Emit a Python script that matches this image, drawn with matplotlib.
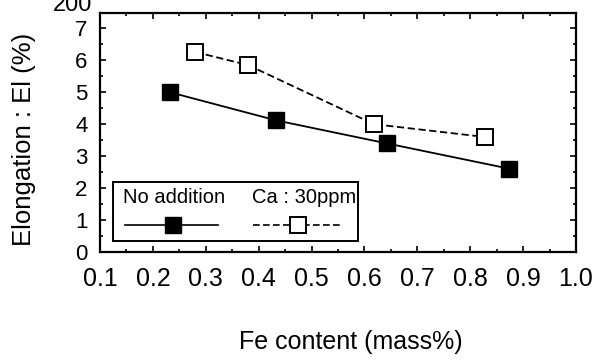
import matplotlib.pyplot as plt
from matplotlib.lines import Line2D
from matplotlib.patches import Rectangle
from matplotlib.ticker import MultipleLocator

plt.rcParams["font.family"] = ["Liberation Sans", "DejaVu Sans"]

# elongation vs Fe content
fe_plain = [0.232, 0.433, 0.642, 0.873]
el_plain = [5.0, 4.12, 3.4, 2.61]
fe_ca = [0.28, 0.38, 0.618, 0.828]
el_ca = [6.26, 5.85, 4.0, 3.6]

label_plain = "No addition"
label_ca = "Ca : 30ppm"
x_ticks = [0.1, 0.2, 0.3, 0.4, 0.5, 0.6, 0.7, 0.8, 0.9, 1.0]
y_ticks = [0, 1, 2, 3, 4, 5, 6, 7]

fig = plt.figure(figsize=(5.96, 3.6), dpi=100)
ax = fig.add_axes([100 / 596, 1 - 252 / 360, 476 / 596, 239 / 360])

ax.plot(fe_plain, el_plain, "-", color="black", lw=1.3,
        marker="s", ms=11.5, mfc="black", mec="black", clip_on=False)
ax.plot(fe_ca, el_ca, "--", color="black", lw=1.3, dashes=(4, 2),
        marker="s", ms=11.5, mfc="white", mec="black", mew=1.4, clip_on=False)

ax.set_xlim(0.1, 1.0)
ax.set_ylim(0, 7.48)
ax.set_xticks(x_ticks)
ax.set_xticklabels(["%.1f" % v for v in x_ticks])
ax.set_yticks(y_ticks)
ax.xaxis.set_minor_locator(MultipleLocator(0.05))
ax.yaxis.set_minor_locator(MultipleLocator(0.5))
ax.tick_params(which="both", direction="in", top=True, right=True, width=1.2)
ax.tick_params(which="major", length=4)
ax.tick_params(which="minor", length=2.5)
ax.tick_params(axis="x", labelsize=18, pad=11)
ax.tick_params(axis="y", labelsize=16, pad=9)
for s in ax.spines.values():
    s.set_linewidth(1.6)

fig.text(24 / 596, 1 - 139 / 360, "Elongation : El (%)", fontsize=18.5,
         rotation=90, ha="center", va="center")
fig.text(351 / 596, 1 - 342 / 360, "Fe content (mass%)", fontsize=18,
         ha="center", va="center")

# top label of the panel above, cut by the figure edge
fig.text(92 / 596, 1 - 11 / 360, "200", fontsize=17, ha="right",
         va="baseline")

# legend: labels above their line samples
box = Rectangle((0.027, 0.046), 0.515, 0.247, transform=ax.transAxes,
                fill=False, ec="black", lw=1.4)
ax.add_patch(box)
ax.text(0.048, 0.226, label_plain, transform=ax.transAxes, fontsize=14.5,
        va="center", ha="left")
ax.text(0.32, 0.226, label_ca, transform=ax.transAxes, fontsize=14.5,
        va="center", ha="left")
ax.add_line(Line2D([0.053, 0.248], [0.113, 0.113], transform=ax.transAxes,
                   color="black", lw=1.2))
ax.plot([0.153], [0.113], "s", ms=11.5, mfc="black", mec="black",
        transform=ax.transAxes)
ax.add_line(Line2D([0.321, 0.51], [0.113, 0.113], transform=ax.transAxes,
                   color="black", lw=1.2, ls="--", dashes=(4, 2)))
ax.plot([0.416], [0.113], "s", ms=11.5, mfc="white", mec="black", mew=1.4,
        transform=ax.transAxes)

fig.savefig("out.png", dpi=100)
